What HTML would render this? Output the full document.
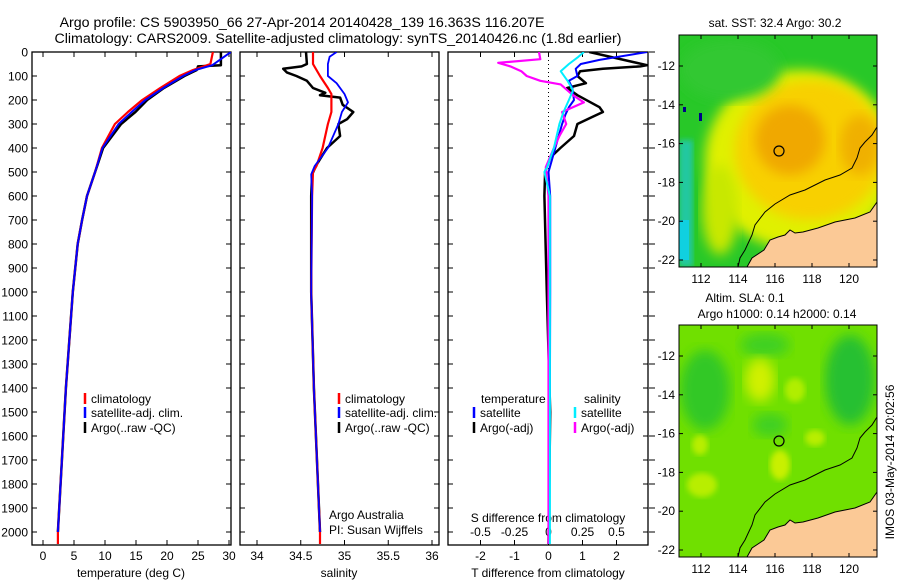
<!DOCTYPE html>
<html><head><meta charset="utf-8"><style>
html,body{margin:0;padding:0;background:#fff;}
svg{display:block;font-family:"Liberation Sans",sans-serif;}
</style></head><body>
<svg id="fig" width="900" height="580" viewBox="0 0 900 580">
<defs>
<filter id="blur4"><feGaussianBlur stdDeviation="6"/></filter>
<filter id="blur2"><feGaussianBlur stdDeviation="3"/></filter>
<clipPath id="m1c"><rect x="679" y="35" width="198" height="232"/></clipPath>
<clipPath id="m2c"><rect x="679" y="325" width="198" height="232"/></clipPath>
<clipPath id="p1c"><rect x="32" y="52" width="199" height="493"/></clipPath>
<clipPath id="p2c"><rect x="240" y="52" width="199" height="493"/></clipPath>
<clipPath id="p3c"><rect x="448" y="52" width="200" height="493"/></clipPath>
</defs>
<text x="302" y="27" font-size="14.2" text-anchor="middle">Argo profile: CS 5903950_66 27-Apr-2014 20140428_139 16.363S 116.207E</text>
<text x="338" y="43" font-size="14.2" text-anchor="middle">Climatology: CARS2009. Satellite-adjusted climatology: synTS_20140426.nc (1.8d earlier)</text>
<g id="axes"></g>
<g id="series"></g>

<!-- SST map -->
<g clip-path="url(#m1c)">
<rect x="679" y="35" width="198" height="232" fill="#28c828"/>
<rect x="679" y="140" width="14" height="127" fill="#20c8a0" filter="url(#blur2)"/>
<rect x="679" y="220" width="10" height="40" fill="#10d0e0"/>
<ellipse cx="800" cy="160" rx="95" ry="90" fill="#e0f000" filter="url(#blur4)"/>
<ellipse cx="720" cy="210" rx="18" ry="45" fill="#c8e800" filter="url(#blur4)"/>
<ellipse cx="810" cy="150" rx="75" ry="70" fill="#f8d000" filter="url(#blur4)"/>
<ellipse cx="790" cy="140" rx="35" ry="35" fill="#f0a800" filter="url(#blur4)"/>
<ellipse cx="860" cy="145" rx="20" ry="30" fill="#f0b000" filter="url(#blur4)"/>
<ellipse cx="730" cy="70" rx="50" ry="30" fill="#30c830" filter="url(#blur4)"/>
<rect x="683" y="107" width="3" height="5" fill="#000088"/>
<rect x="699" y="113" width="3" height="8" fill="#000088"/>
<polygon points="877,202 870,212 855,218 835,222 818,228 803,232 795,233 790,230 785,235 778,237 770,240 764,250 752,258 747,267 877,267" fill="#fbc996" stroke="#000" stroke-width="1"/>
<polyline points="877,127 872,135 865,142 860,148 857,158 852,168 840,175 825,180 805,190 790,195 775,204 765,212 755,225 752,235 745,250 740,258 738,267" fill="none" stroke="#000" stroke-width="1"/>
<circle cx="779" cy="151" r="5" fill="none" stroke="#000" stroke-width="1.2"/>
</g>
<rect x="679" y="35" width="198" height="232" fill="none" stroke="#000"/>
<text x="775" y="27" font-size="12" text-anchor="middle">sat. SST: 32.4 Argo: 30.2</text>

<!-- SLA map -->
<g clip-path="url(#m2c)">
<rect x="679" y="325" width="198" height="232" fill="#70e000"/>
<ellipse cx="705" cy="390" rx="25" ry="40" fill="#30c828" filter="url(#blur4)"/>
<ellipse cx="850" cy="380" rx="25" ry="45" fill="#28c030" filter="url(#blur4)"/>
<ellipse cx="765" cy="345" rx="25" ry="12" fill="#40d020" filter="url(#blur4)"/>
<ellipse cx="770" cy="425" rx="18" ry="12" fill="#40d020" filter="url(#blur4)"/>
<ellipse cx="760" cy="380" rx="15" ry="22" fill="#d0f000" filter="url(#blur4)"/>
<ellipse cx="795" cy="390" rx="10" ry="12" fill="#b0ee00" filter="url(#blur2)"/>
<ellipse cx="780" cy="465" rx="10" ry="15" fill="#c8f000" filter="url(#blur2)"/>
<ellipse cx="702" cy="485" rx="15" ry="12" fill="#b8ee00" filter="url(#blur2)"/>
<ellipse cx="700" cy="445" rx="8" ry="10" fill="#b8ee00" filter="url(#blur2)"/>
<ellipse cx="815" cy="438" rx="10" ry="8" fill="#b8ee00" filter="url(#blur2)"/>
<polygon points="877,492 870,502 855,508 835,512 818,518 803,522 795,523 790,520 785,525 778,527 770,530 764,540 752,548 747,557 877,557" fill="#fbc996" stroke="#000" stroke-width="1"/>
<polyline points="877,417 872,425 865,432 860,438 857,448 852,458 840,465 825,470 805,480 790,485 775,494 765,502 755,515 752,525 745,540 740,548 738,557" fill="none" stroke="#000" stroke-width="1"/>
<circle cx="779" cy="441" r="5" fill="none" stroke="#000" stroke-width="1.2"/>
</g>
<rect x="679" y="325" width="198" height="232" fill="none" stroke="#000"/>
<text x="745" y="302" font-size="12" text-anchor="middle">Altim. SLA: 0.1</text>
<text x="777" y="318" font-size="12" text-anchor="middle">Argo h1000: 0.14 h2000: 0.14</text>
<text transform="translate(894,462) rotate(-90)" font-size="12" text-anchor="middle">IMOS 03-May-2014 20:02:56</text>
<g id="mapaxes"></g>
</svg>
<script>
const NS="http://www.w3.org/2000/svg";
const fig=document.getElementById('fig');
const axes=document.getElementById('axes');
const series=document.getElementById('series');
function mk(tag,attrs,parent){const e=document.createElementNS(NS,tag);for(const k in attrs)e.setAttribute(k,attrs[k]);(parent||axes).appendChild(e);return e;}

// ---- data ----
const depthTicks=[0,100,200,300,400,500,600,700,800,900,1000,1100,1200,1300,1400,1500,1600,1700,1800,1900,2000];
const tempTicks=[0,5,10,15,20,25,30];
const salTicks=[34,34.5,35,35.5,36];
const tdiffTicks=[-2,-1,0,1,2];
const sdiffTicks=[-0.5,-0.25,0,0.25,0.5];

const tClimDepth=[0,50,75,100,150,200,250,300,400,500,600,700,800,1000,1400,2000,2050];
const tClim=[27.4,27,24.2,22,18.9,16,13.7,11.6,9.5,8.4,7.1,6.3,5.6,4.8,3.7,2.4,2.4];
const tSatDepth=[0,55,75,100,150,200,250,300,400,500,600,700,800,1000,1400,2000];
const tSat=[30.3,27.3,24.6,22.6,19.4,16.5,14.3,12.2,9.6,8.4,7.1,6.3,5.6,4.8,3.7,2.4];
const tArgoDepth=[0,55,60,75,100,150,200,250,300,400,500,600,700,800,1000,1400,2000];
const tArgo=[28.7,28.7,25,24.8,22.8,19.5,16.8,14.9,12.6,9.7,8.4,7.1,6.3,5.6,4.8,3.7,2.4];

const sClimDepth=[0,50,100,150,175,250,300,400,475,500,600,1000,1400,2000,2050];
const sClim=[34.64,34.64,34.72,34.81,34.85,34.85,34.81,34.75,34.68,34.64,34.63,34.62,34.65,34.72,34.72];
const sSatDepth=[0,20,50,100,130,175,210,250,300,400,475,510,600,1000,1400,2000];
const sSat=[34.91,34.83,34.81,34.81,34.91,35.0,35.04,34.97,34.93,34.81,34.66,34.62,34.63,34.62,34.65,34.72];
const sArgoDepth=[0,50,60,70,85,100,120,150,170,180,190,220,250,280,300,350,400,470,510,600,1000,1400,2000];
const sArgo=[34.56,34.57,34.51,34.3,34.34,34.45,34.57,34.64,34.78,34.72,34.95,34.98,35.1,35.03,34.93,34.95,34.8,34.68,34.63,34.62,34.62,34.65,34.72];

const dTArgoDepth=[0,55,60,70,80,100,130,150,180,230,250,270,300,350,400,440,500,600,1000,1500,2050];
const dTArgo=[1.2,2.9,2.7,1.6,0.93,0.85,1.1,0.55,0.85,1.5,1.6,1.3,0.85,0.75,0.35,0.05,-0.1,-0.12,-0.05,0.05,0];
const dTSatDepth=[0,33,50,70,100,120,150,200,230,260,300,400,500,600,1000,2050];
const dTSat=[2.9,1.5,0.95,0.8,0.85,0.6,0.7,0.75,0.6,0.5,0.4,0.2,0,0.05,0.05,0.03];
const dSArgoDepth=[0,30,45,60,80,100,120,135,180,210,250,300,350,400,480,600,1000,2050];
const dSArgo=[-0.07,-0.06,-0.37,-0.28,-0.2,-0.16,-0.06,0.09,0.18,0.26,0.1,0.13,0.08,0.04,-0.02,0,0,0];
const dSSatDepth=[0,20,50,80,120,160,200,250,300,400,480,500,600,1000,2050];
const dSSat=[0.26,0.22,0.15,0.09,0.14,0.18,0.15,0.11,0.08,0.04,-0.01,-0.03,0.01,0.01,0.01];

// ---- scales ----
const yTop=52,yBot=545;
const yS=d=>52+0.24*d;
const xT=t=>43+6.2*t;
const xSal=s=>257+87.5*(s-34);
const xDT=t=>548.5+34*t;
const xDS=s=>548.5+136*s;

const panels=[{x:32,w:199,n:'temperature-panel'},{x:240,w:199,n:'salinity-panel'},{x:448,w:200,n:'difference-panel'}];
panels.forEach(p=>{
  const r=mk('rect',{x:p.x,y:yTop,width:p.w,height:yBot-yTop,fill:'none',stroke:'#000','stroke-width':1.3});
  
  
  depthTicks.forEach(d=>{
    mk('line',{x1:p.x,x2:p.x+5,y1:yS(d),y2:yS(d),stroke:'#000'});
    mk('line',{x1:p.x+p.w-5,x2:p.x+p.w,y1:yS(d),y2:yS(d),stroke:'#000'});
  });
});
depthTicks.forEach(d=>{
  const t=mk('text',{x:28,y:yS(d)+4.5,'font-size':12,'text-anchor':'end'});
  t.textContent=d;
  
  
  mk('line',{x1:649,x2:655,y1:yS(d),y2:yS(d),stroke:'#000'});
});
function xticks(ticks,fx,labely){
  ticks.forEach(v=>{
    const x=fx(v);
    mk('line',{x1:x,x2:x,y1:yTop,y2:yTop+5,stroke:'#000'});
    mk('line',{x1:x,x2:x,y1:yBot-5,y2:yBot,stroke:'#000'});
    const t=mk('text',{x:x,y:labely,'font-size':12,'text-anchor':'middle'});
    t.textContent=v;
    
    
  });
}
xticks(tempTicks,xT,560);
xticks(salTicks,xSal,560);
xticks(tdiffTicks,xDT,560);
sdiffTicks.forEach(v=>{
  const t=mk('text',{x:xDS(v),y:536,'font-size':12,'text-anchor':'middle'});
  t.textContent=String(v);
  
  
});
function label(x,y,txt,name,anchor){const t=mk('text',{x:x,y:y,'font-size':12,'text-anchor':anchor||'middle'});t.textContent=txt;return t;}
label(131,577,'temperature (deg C)','x-axis-title-temperature');
label(339,577,'salinity','x-axis-title-salinity');
label(548,577,'T difference from climatology','x-axis-title-t-diff');
label(548,522,'S difference from climatology','x-axis-title-s-diff');
mk('line',{x1:xDT(0),x2:xDT(0),y1:yTop,y2:yBot,stroke:'#000','stroke-dasharray':'1,3'});

function line(depths,vals,fx,color,w,clip,name){
  const pts=depths.map((d,i)=>fx(vals[i]).toFixed(1)+','+yS(d).toFixed(1)).join(' ');
  const p=mk('polyline',{points:pts,fill:'none',stroke:color,'stroke-width':w,'clip-path':'url(#'+clip+')','stroke-linejoin':'round'},series);
  
  
}
line(tArgoDepth,tArgo,xT,'#000',2.5,'p1c','temp-argo-line');
line(tClimDepth,tClim,xT,'#f00',2.2,'p1c','temp-climatology-line');
line(tSatDepth,tSat,xT,'#00f',2,'p1c','temp-satellite-line');
line(sArgoDepth,sArgo,xSal,'#000',2.5,'p2c','sal-argo-line');
line(sClimDepth,sClim,xSal,'#f00',2.2,'p2c','sal-climatology-line');
line(sSatDepth,sSat,xSal,'#00f',1.8,'p2c','sal-satellite-line');
line(dTArgoDepth,dTArgo,xDT,'#000',2.5,'p3c','tdiff-argo-line');
line(dTSatDepth,dTSat,xDT,'#00f',2,'p3c','tdiff-satellite-line');
line(dSArgoDepth,dSArgo,xDS,'#f0f',2.2,'p3c','sdiff-argo-line');
line(dSSatDepth,dSSat,xDS,'#0ef',2,'p3c','sdiff-satellite-line');

function leg(x,y,color,txt,name){
  mk('line',{x1:x,x2:x,y1:y-10,y2:y+1,stroke:color,'stroke-width':2.5});
  const t=mk('text',{x:x+6,y:y,'font-size':12});t.textContent=txt;
  
  
}
leg(85,403,'#f00','climatology','legend-climatology');
leg(85,417,'#00f','satellite-adj. clim.','legend-satellite');
leg(85,432,'#000','Argo(..raw -QC)','legend-argo');
leg(339,403,'#f00','climatology','legend-sal-climatology');
leg(339,417,'#00f','satellite-adj. clim.','legend-sal-satellite');
leg(339,432,'#000','Argo(..raw -QC)','legend-sal-argo');
label(481,403,'temperature','legend-temperature-header','start');
leg(474,417,'#00f','satellite','legend-tdiff-satellite');
leg(474,432,'#000','Argo(-adj)','legend-tdiff-argo');
label(584,403,'salinity','legend-salinity-header','start');
leg(575,417,'#0ef','satellite','legend-sdiff-satellite');
leg(575,432,'#f0f','Argo(-adj)','legend-sdiff-argo');
label(329,519,'Argo Australia','argo-australia-label','start');
label(329,534,'PI: Susan Wijffels','pi-label','start');

const ma=document.getElementById('mapaxes');
const lonTicks=[112,114,116,118,120];
const latTicks=[-12,-14,-16,-18,-20,-22];
[[35,267],[325,557]].forEach(([top,bot])=>{
  lonTicks.forEach(l=>{
    const x=701+18.5*(l-112);
    mk('line',{x1:x,x2:x,y1:top,y2:top+4,stroke:'#000'},ma);
    mk('line',{x1:x,x2:x,y1:bot-4,y2:bot,stroke:'#000'},ma);
    const t=mk('text',{x:x,y:bot+16,'font-size':12,'text-anchor':'middle'},ma);t.textContent=l;
    
    
  });
  latTicks.forEach(l=>{
    const y=top+31+19.4*(-12-l);
    mk('line',{x1:679,x2:683,y1:y,y2:y,stroke:'#000'},ma);
    mk('line',{x1:873,x2:877,y1:y,y2:y,stroke:'#000'},ma);
    const t=mk('text',{x:675,y:y+4,'font-size':12,'text-anchor':'end'},ma);t.textContent=l;
    
    
  });
});
</script>
</body></html>
